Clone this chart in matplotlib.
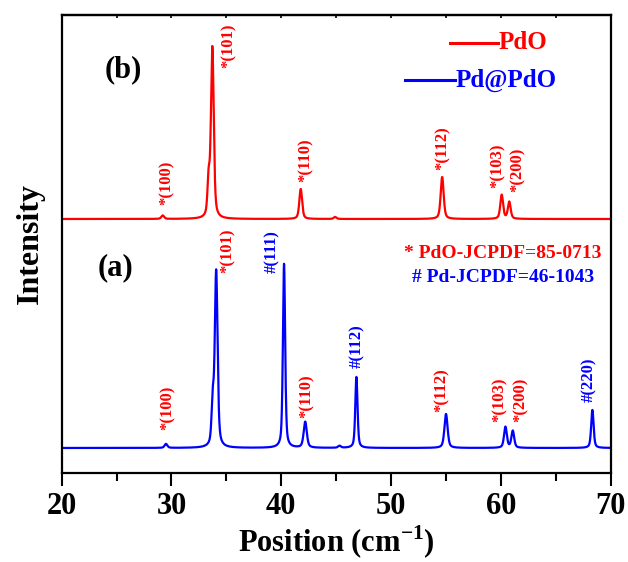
import numpy as np
import matplotlib
matplotlib.use("Agg")
import matplotlib.pyplot as plt

plt.rcParams['font.family'] = ['Liberation Serif', 'DejaVu Serif']
plt.rcParams['font.weight'] = 'bold'
plt.rcParams['mathtext.fontset'] = 'custom'
plt.rcParams['mathtext.rm'] = 'Liberation Serif:bold'
plt.rcParams['mathtext.bf'] = 'Liberation Serif:bold'

# ---------------- data (arbitrary intensity units) ----------------
# Pd@PdO (a) : peak positions (2theta), heights above baseline, FWHM
pd_pdo_pos = [29.5, 33.75, 34.07, 40.25, 42.18, 45.3, 46.84, 55.0, 60.41, 61.08, 68.33]
pd_pdo_height = [4, 40, 176, 184, 26, 2, 71, 34, 21, 17, 38]
pd_pdo_fwhm = [0.3, 0.24, 0.3, 0.24, 0.34, 0.3, 0.24, 0.34, 0.3, 0.3, 0.26]
pd_pdo_baseline = 25

# PdO (b)
pdo_pos = [29.2, 33.38, 33.72, 41.77, 44.9, 54.65, 60.07, 60.76]
pdo_height = [3.5, 35, 171, 30, 2, 42, 24, 17]
pdo_fwhm = [0.3, 0.24, 0.3, 0.3, 0.3, 0.32, 0.3, 0.3]
pdo_baseline = 254

# peak labels
labels_b = ["*(100)", "*(101)", "*(110)", "*(112)", "*(103)", "*(200)"]
labels_b_x = [29.6, 35.2, 42.2, 54.7, 59.7, 61.55]
labels_b_y = [268, 405, 291, 303, 285, 281]

labels_a = ["*(100)", "*(101)", "#(111)", "*(110)", "#(112)", "*(112)", "*(103)", "*(200)", "#(220)"]
labels_a_x = [29.7, 35.15, 39.15, 42.27, 46.9, 54.65, 59.9, 61.8, 68.0]
labels_a_y = [43, 200, 200, 55, 105, 61, 51, 51, 71]

xticks = [20, 30, 40, 50, 60, 70]

RED = '#ff0000'
BLUE = '#0000ff'


def pattern(x, pos, hgt, fw, base):
    y = np.full_like(x, float(base))
    for p, h, w in zip(pos, hgt, fw):
        g = np.exp(-4 * np.log(2) * ((x - p) / w) ** 2)
        l = 1.0 / (1.0 + 4 * ((x - p) / w) ** 2)
        y += h * (0.5 * g + 0.5 * l)
    return y


two_theta = np.arange(20.0, 70.001, 0.01)
ya = pattern(two_theta, pd_pdo_pos, pd_pdo_height, pd_pdo_fwhm, pd_pdo_baseline)
yb = pattern(two_theta, pdo_pos, pdo_height, pdo_fwhm, pdo_baseline)

fig = plt.figure(figsize=(6.28, 5.62), dpi=100)
ax = fig.add_axes([0.0982, 0.1584, 0.8743, 0.8149])

ax.plot(two_theta, yb, color=RED, lw=1.6)
ax.plot(two_theta, ya, color=BLUE, lw=1.6)

ax.set_xlim(20, 70)
ax.set_ylim(0, 458)

for t, x, y in zip(labels_b, labels_b_x, labels_b_y):
    ax.text(x, y, t, rotation=90, ha='center', va='bottom', color=RED,
            fontsize=12, fontweight='bold')
for t, x, y in zip(labels_a, labels_a_x, labels_a_y):
    c = RED if t.startswith('*') else BLUE
    ax.text(x, y, t, rotation=90, ha='center', va='bottom', color=c,
            fontsize=12, fontweight='bold')

# custom legend
ax.plot([0.707, 0.795], [0.939, 0.939], color=RED, lw=2.2, transform=ax.transAxes)
ax.text(0.795, 0.939, "PdO", color=RED, fontsize=18, fontweight='bold',
        ha='left', va='center', transform=ax.transAxes)
ax.plot([0.625, 0.717], [0.858, 0.858], color=BLUE, lw=2.2, transform=ax.transAxes)
ax.text(0.717, 0.858, "Pd@PdO", color=BLUE, fontsize=18, fontweight='bold',
        ha='left', va='center', transform=ax.transAxes)

ax.text(0.079, 0.88, "(b)", fontsize=22, fontweight='bold', ha='left', va='center',
        transform=ax.transAxes)
ax.text(0.066, 0.448, "(a)", fontsize=22, fontweight='bold', ha='left', va='center',
        transform=ax.transAxes)

ax.text(0.804, 0.480, "* PdO-JCPDF=85-0713", color=RED, fontsize=14, fontweight='bold',
        ha='center', va='center', transform=ax.transAxes)
ax.text(0.804, 0.426, "# Pd-JCPDF=46-1043", color=BLUE, fontsize=14, fontweight='bold',
        ha='center', va='center', transform=ax.transAxes)

ax.set_xticks(xticks)
ax.set_xticklabels([str(v) for v in xticks])
ax.set_xticks(np.arange(25, 70, 10), minor=True)
ax.set_yticks([])
ax.tick_params(axis='x', which='major', direction='out', length=9.4, width=1.5,
               labelsize=22, pad=4)
ax.tick_params(axis='x', which='minor', direction='out', length=5.8, width=1.5)
for lab in ax.get_xticklabels():
    lab.set_fontweight('bold')
for s in ax.spines.values():
    s.set_linewidth(1.6)

# tiny inward ticks along the top spine
top = ax.secondary_xaxis('top')
top.set_xticks(np.arange(20, 71, 5))
top.tick_params(direction='in', length=2, width=1.2, labeltop=False)
top.set_xticklabels([])
top.spines['top'].set_linewidth(1.6)

ax.set_xlabel(r"Position (cm$^{\mathbf{-1}}$)", fontsize=22, fontweight='bold', labelpad=2)
ax.set_ylabel("Intensity", fontsize=23, fontweight='bold', labelpad=12)

fig.savefig("out.png", dpi=100)
